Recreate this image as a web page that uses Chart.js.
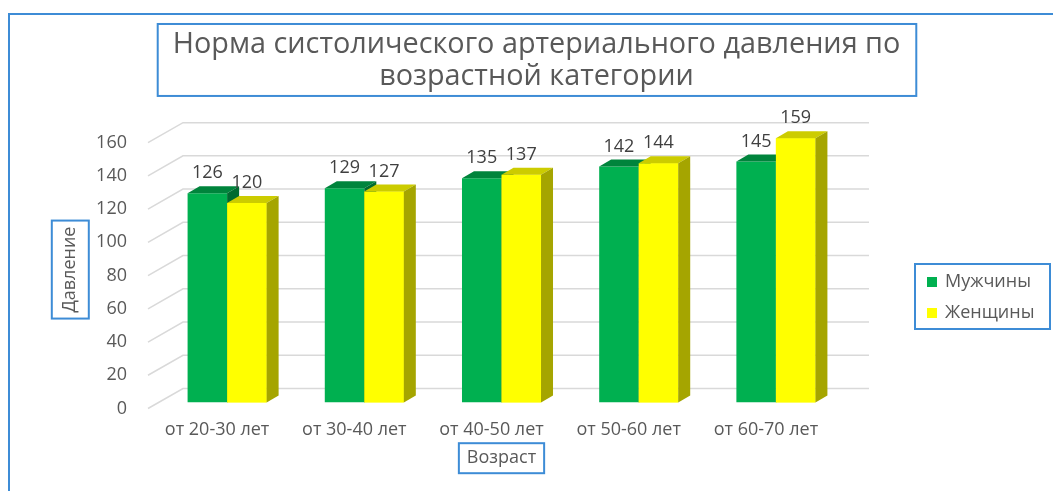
<!DOCTYPE html>
<html lang="ru">
<head>
<meta charset="utf-8">
<title>Норма систолического артериального давления</title>
<script src="https://cdn.jsdelivr.net/npm/chart.js@4.4.1/dist/chart.umd.min.js"></script>
<style>
  html, body { margin: 0; padding: 0; background: #fff; }
  canvas { display: block; }
</style>
</head>
<body>
<canvas id="chartDavlenie" width="1053" height="491"></canvas>
<script>
// --- данные ---
const kategorii = ['от 20-30 лет', 'от 30-40 лет', 'от 40-50 лет', 'от 50-60 лет', 'от 60-70 лет'];
const muzhchiny = [126, 129, 135, 142, 145];
const zhenshchiny = [120, 127, 137, 144, 159];
const yTiki = [0, 20, 40, 60, 80, 100, 120, 140, 160];

const GRAY = '#595959';
const BLUE = '#3d8cd6';
const FONT = '"Open Sans", sans-serif';
const FS = 18;

// смещения для "объёмного" вида
const DEPTH = { dx: 12, dy: -7 };     // верх и бок столбика
const BACK = { dx: 24.5, dy: -14 };   // задняя стенка
const FRONT = { dx: -10.5, dy: 6 };   // передний край пола
const faces = [
    { top: '#00843c', side: '#006a30' },
    { top: '#cccc00', side: '#a5a500' }
];

Chart.defaults.font.family = FONT;

function grani(ctx, bar, warna) {
    const { x, y, width, base } = bar.getProps(['x', 'y', 'width', 'base'], true);
    const l = x - width / 2, r = x + width / 2;
    // верх
    ctx.fillStyle = warna.top;
    ctx.beginPath();
    ctx.moveTo(l, y);
    ctx.lineTo(l + DEPTH.dx, y + DEPTH.dy);
    ctx.lineTo(r + DEPTH.dx, y + DEPTH.dy);
    ctx.lineTo(r, y);
    ctx.closePath();
    ctx.fill();
    // бок
    ctx.fillStyle = warna.side;
    ctx.beginPath();
    ctx.moveTo(r, y);
    ctx.lineTo(r + DEPTH.dx, y + DEPTH.dy);
    ctx.lineTo(r + DEPTH.dx, base + DEPTH.dy);
    ctx.lineTo(r, base);
    ctx.closePath();
    ctx.fill();
}

const efek3d = {
    id: 'efek3d',
    beforeDatasetsDraw(chart) {
        const { ctx, chartArea, scales: { y } } = chart;
        ctx.save();
        ctx.strokeStyle = '#d9d9d9';
        ctx.lineWidth = 1.5;
        yTiki.forEach(v => {
            const py = y.getPixelForValue(v);
            ctx.beginPath();
            ctx.moveTo(chartArea.left + FRONT.dx, py + FRONT.dy);
            ctx.lineTo(chartArea.left + BACK.dx, py + BACK.dy);
            ctx.lineTo(chartArea.right + BACK.dx, py + BACK.dy);
            ctx.stroke();
        });
        ctx.restore();
    },
    afterDatasetsDraw(chart) {
        const { ctx } = chart;
        const metas = chart.data.datasets.map((ds, i) => chart.getDatasetMeta(i));
        ctx.save();
        // по категориям: левый столбик, потом правый поверх его бока
        kategorii.forEach((k, j) => {
            metas.forEach((meta, i) => {
                const bar = meta.data[j];
                if (i > 0) bar.draw(ctx);
                grani(ctx, bar, faces[i]);
            });
        });
        // подписи значений
        ctx.font = FS + 'px ' + FONT;
        ctx.fillStyle = '#404040';
        ctx.textAlign = 'center';
        ctx.textBaseline = 'middle';
        chart.data.datasets.forEach((ds, i) => {
            metas[i].data.forEach((bar, j) => {
                ctx.fillText(String(ds.data[j]), bar.x, bar.y - 20);
            });
        });
        ctx.restore();
    },
    afterDraw(chart) {
        const { ctx, scales: { x, y } } = chart;
        ctx.save();
        ctx.strokeStyle = BLUE;
        ctx.lineWidth = 2;

        // рамка всей диаграммы (уходит за край картинки)
        ctx.strokeRect(9, 14, 1100, 600);

        // рамка заголовка
        const t = chart.options.plugins.title;
        const tLine = t.font.size * t.font.lineHeight;
        ctx.font = t.font.size + 'px ' + FONT;
        const tw = Math.max(...t.text.map(s => ctx.measureText(s).width));
        const tcx = chart.titleBlock.left + chart.titleBlock.width / 2;
        const ty1 = chart.titleBlock.top + t.padding.top + tLine / 2;
        const ty2 = ty1 + tLine * (t.text.length - 1);
        ctx.strokeRect(tcx - tw / 2 - 15, ty1 - 21, tw + 31, ty2 - ty1 + 40);

        // рамки названий осей
        ctx.font = FS + 'px ' + FONT;
        const yw = ctx.measureText(y.options.title.text).width;
        const ycx = y.left + y.options.title.padding.top + FS * 0.6;
        const ycy = (y.top + y.bottom) / 2;
        ctx.strokeRect(ycx - 18.5, ycy - yw / 2 - 6, 37, yw + 12);

        const xw = ctx.measureText(x.options.title.text).width;
        const xcx = (x.left + x.right) / 2;
        const xcy = x.bottom - x.options.title.padding.bottom - FS * 0.6;
        ctx.strokeRect(xcx - xw / 2 - 8, xcy - 15, xw + 16, 30);

        // легенда
        const lx = 927, ly = [282, 313];
        ctx.strokeRect(lx - 12, ly[0] - 18, 135, ly[1] - ly[0] + 34);
        ctx.textAlign = 'left';
        ctx.textBaseline = 'middle';
        chart.data.datasets.forEach((ds, i) => {
            ctx.fillStyle = ds.backgroundColor;
            ctx.fillRect(lx, ly[i] - 5, 10, 10);
            ctx.fillStyle = GRAY;
            ctx.fillText(ds.label, lx + 18, ly[i]);
        });
        ctx.restore();
    }
};

new Chart(document.getElementById('chartDavlenie').getContext('2d'), {
    type: 'bar',
    data: {
        labels: kategorii,
        datasets: [
            { label: 'Мужчины', data: muzhchiny, backgroundColor: '#00b050', borderWidth: 0, categoryPercentage: 0.576, barPercentage: 1 },
            { label: 'Женщины', data: zhenshchiny, backgroundColor: '#ffff00', borderWidth: 0, categoryPercentage: 0.576, barPercentage: 1 }
        ]
    },
    options: {
        responsive: false,
        animation: false,
        layout: { padding: { left: 20, right: 0, top: 0, bottom: 0 } },
        plugins: {
            legend: { display: false },
            tooltip: { enabled: false },
            title: {
                display: true,
                text: ['Норма систолического артериального давления по', 'возрастной категории'],
                color: GRAY,
                font: { size: 28.8, weight: 'normal', lineHeight: 1.11 },
                padding: { top: 29, bottom: 43.7 }
            }
        },
        scales: {
            x: {
                grid: { display: false, drawTicks: false },
                border: { display: false },
                ticks: { color: GRAY, font: { size: FS }, padding: 16.5, labelOffset: -10, maxRotation: 0, autoSkip: false },
                title: { display: true, text: 'Возраст', color: GRAY, font: { size: FS }, padding: { top: 0, bottom: 22 } },
                afterFit: s => { s.height = 88.5; }
            },
            y: {
                min: 0, max: 160,
                grid: { display: false, drawTicks: false },
                border: { display: false },
                ticks: { stepSize: 20, color: GRAY, font: { size: FS }, padding: 31.5, labelOffset: 6 },
                title: { display: true, text: 'Давление', color: GRAY, font: { size: FS }, padding: { top: 39.5, bottom: 0 } },
                afterFit: s => { s.width = 138.5; }
            },
            zapas: {
                type: 'linear', position: 'right', display: true,
                grid: { display: false, drawTicks: false },
                border: { display: false },
                ticks: { display: false },
                afterFit: s => { s.width = 208.5; }
            }
        }
    },
    plugins: [efek3d]
});
</script>
</body>
</html>
